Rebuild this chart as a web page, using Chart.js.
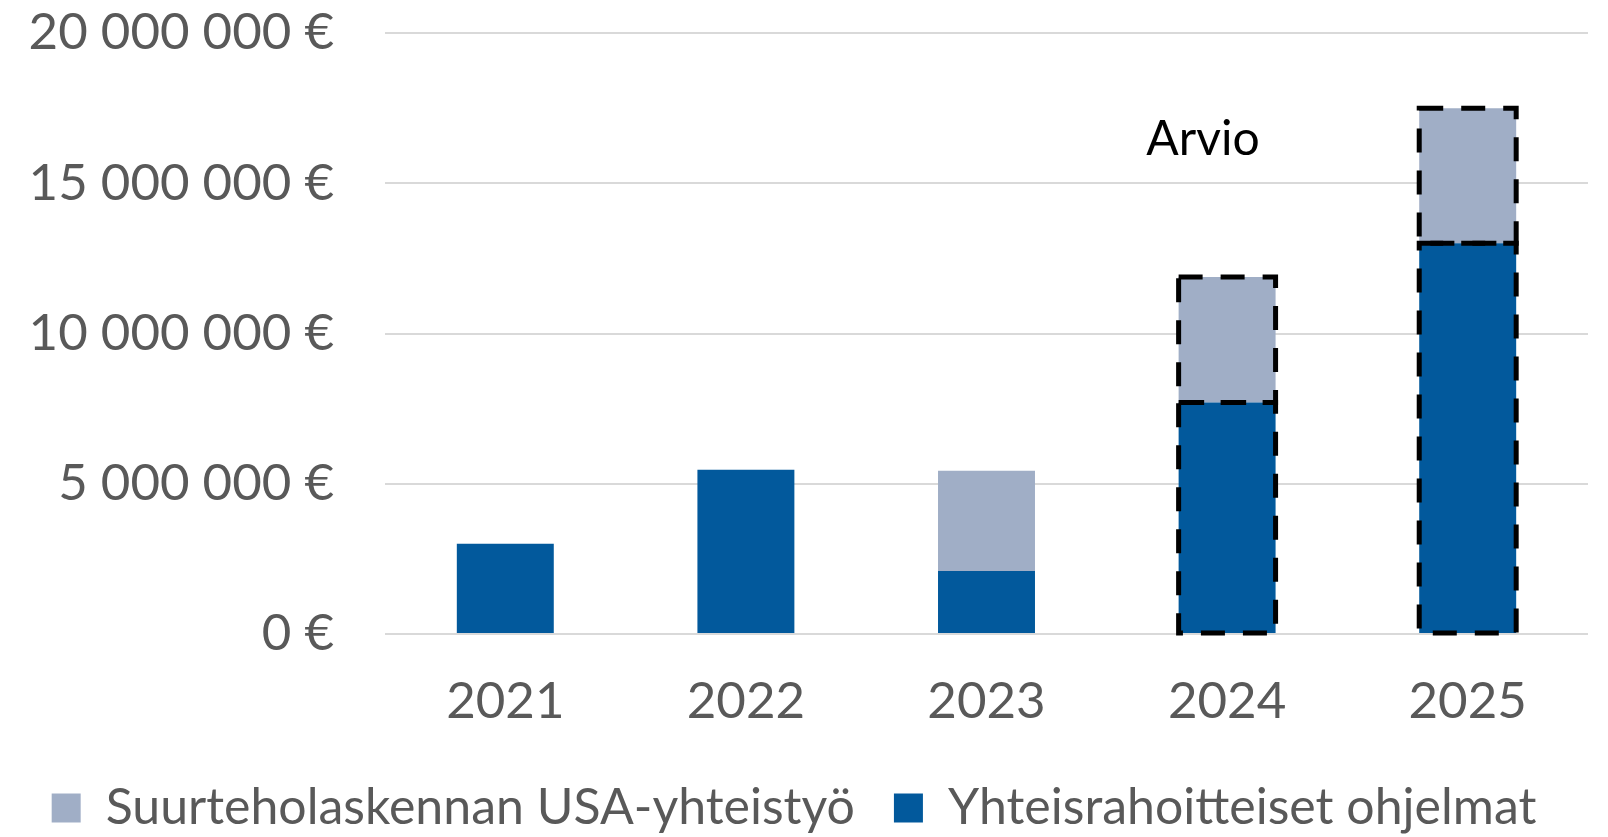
<!DOCTYPE html>
<html lang="fi">
<head>
  <meta charset="UTF-8">
  <title>Rahoitus</title>
  <script src="https://cdn.jsdelivr.net/npm/chart.js"></script>
  <style>
    html, body {
      margin: 0;
      padding: 0;
      background: #ffffff;
    }
    #wrap {
      width: 1608px;
      height: 837px;
    }
  </style>
</head>
<body>
  <div id="wrap"><canvas id="chart" width="1608" height="837"></canvas></div>

  <script>
    // data
    const years = ['2021', '2022', '2023', '2024', '2025'];
    const jointPrograms = [3000000, 5470000, 2100000, 7700000, 13000000];
    const usaCooperation = [0, 0, 3330000, 4180000, 4500000];
    const estimated = [false, false, false, true, true];
    const yTicks = [0, 5000000, 10000000, 15000000, 20000000];
    const noteText = 'Arvio';
    const notePos = [2.9, 16460000];

    const tickFont = { family: 'Lato', size: 51 };

    function euro(v) {
      return String(v).replace(/\B(?=(\d{3})+(?!\d))/g, ' ') + ' €';
    }

    // chart.js bars can't do dashed borders, so stroke them here
    const estimatePlugin = {
      id: 'estimateBoxes',
      afterDatasetsDraw(chart) {
        const ctx = chart.ctx;
        ctx.save();
        ctx.strokeStyle = '#000000';
        ctx.lineWidth = 5;
        ctx.setLineDash([24, 18]);
        chart.data.datasets.forEach((ds, di) => {
          const meta = chart.getDatasetMeta(di);
          meta.data.forEach((bar, i) => {
            if (!estimated[i]) return;
            const p = bar.getProps(['x', 'y', 'base', 'width'], true);
            const left = p.x - p.width / 2;
            const top = Math.min(p.y, p.base);
            const h = Math.abs(p.base - p.y);
            ctx.strokeRect(left, top, p.width, h);
          });
        });
        ctx.restore();

        const xs = chart.scales.x, ys = chart.scales.y;
        ctx.save();
        ctx.fillStyle = '#000000';
        ctx.font = '48px Lato';
        ctx.textAlign = 'center';
        ctx.textBaseline = 'middle';
        ctx.fillText(noteText, xs.getPixelForValue(notePos[0]), ys.getPixelForValue(notePos[1]));
        ctx.restore();
      }
    };

    new Chart(document.getElementById('chart'), {
      type: 'bar',
      data: {
        labels: years,
        datasets: [
          {
            label: 'Yhteisrahoitteiset ohjelmat',
            data: jointPrograms,
            backgroundColor: '#02599C',
            borderWidth: 0
          },
          {
            label: 'Suurteholaskennan USA-yhteistyö',
            data: usaCooperation,
            backgroundColor: '#A0AEC6',
            borderWidth: 0
          }
        ]
      },
      options: {
        responsive: false,
        animation: false,
        devicePixelRatio: 1,
        layout: { padding: { top: 33, right: 20, left: 0, bottom: -6 } },
        datasets: { bar: { categoryPercentage: 1, barPercentage: 0.403 } },
        scales: {
          x: {
            stacked: true,
            grid: { display: false, drawTicks: false },
            border: { display: false },
            ticks: { color: '#595959', font: tickFont, padding: 37 },
            afterFit(scale) { scale.height = 110; }
          },
          y: {
            stacked: true,
            min: 0,
            max: 20000000,
            afterBuildTicks(scale) {
              scale.ticks = yTicks.map(v => ({ value: v }));
            },
            afterFit(scale) {
              scale.width = 385;
              scale.paddingTop = 0;
              scale.paddingBottom = 0;
            },
            grid: { color: '#D9D9D9', lineWidth: 2, drawTicks: false },
            border: { display: false },
            ticks: {
              color: '#595959',
              font: tickFont,
              padding: 51,
              callback: v => euro(v)
            }
          }
        },
        plugins: {
          legend: {
            position: 'bottom',
            reverse: true,
            labels: {
              color: '#595959',
              font: { family: 'Lato', size: 50 },
              boxWidth: 29,
              boxHeight: 29,
              padding: 39
            }
          },
          tooltip: { enabled: false }
        }
      },
      plugins: [estimatePlugin]
    });
  </script>
</body>
</html>
